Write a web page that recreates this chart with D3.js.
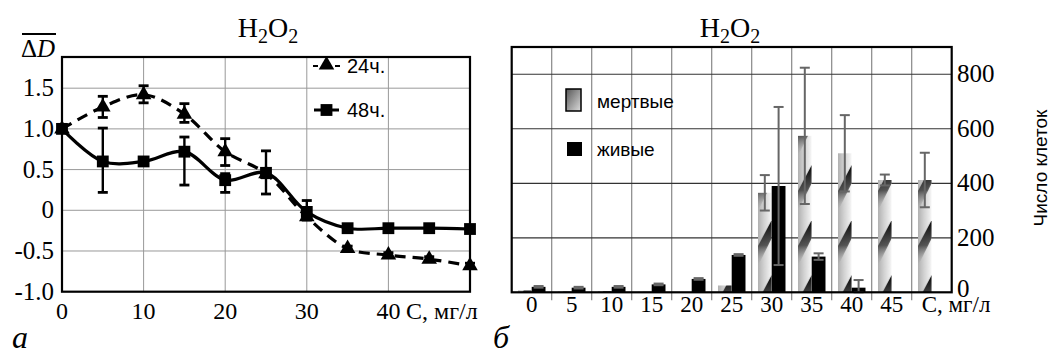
<!DOCTYPE html>
<html>
<head>
<meta charset="utf-8">
<script src="https://cdn.jsdelivr.net/npm/d3@7"></script>
<style>
  body { margin: 0; background: #fff; }
  svg { display: block; }
  .serif { font-family: "Liberation Serif", "Times New Roman", serif; }
  .sans { font-family: "Liberation Sans", Arial, sans-serif; }
</style>
</head>
<body>
<div id="chart"></div>
<script>
// ---- left panel (а): relative optical density vs concentration
const conc = [0, 5, 10, 15, 20, 25, 30, 35, 40, 45, 50];
const d24 = [1.0, 1.27, 1.42, 1.18, 0.72, 0.45, -0.08, -0.47, -0.55, -0.6, -0.68];
const d24Hi = [1.0, 1.4, 1.53, 1.31, 0.88, 0.5, -0.03, -0.44, -0.52, -0.57, -0.65];
const d24Lo = [1.0, 1.14, 1.32, 1.08, 0.55, 0.4, -0.12, -0.5, -0.58, -0.63, -0.71];
const d48 = [1.0, 0.6, 0.6, 0.72, 0.37, 0.46, -0.02, -0.22, -0.22, -0.22, -0.23];
const d48Hi = [1.0, 1.01, 0.62, 0.9, 0.45, 0.73, 0.12, -0.2, -0.2, -0.2, -0.21];
const d48Lo = [1.0, 0.22, 0.58, 0.31, 0.22, 0.2, -0.1, -0.24, -0.24, -0.24, -0.25];
const leftXTicks = [0, 10, 20, 30, 40];
const leftYTicks = [-1.0, -0.5, 0, 0.5, 1.0, 1.5];
const leftYLabels = ["-1.0", "-0.5", "0", "0.5", "1.0", "1.5"];

// ---- right panel (б): cell counts
const cats = [0, 5, 10, 15, 20, 25, 30, 35, 40, 45, 50];
const catLabels = ["0", "5", "10", "15", "20", "25", "30", "35", "40", "45", "C, мг/л"];
const dead = [7, 3, 4, 2, 0, 25, 365, 574, 510, 412, 412];
const deadErr = [0, 0, 0, 0, 0, 0, 65, 250, 140, 20, 100];
const live = [20, 17, 20, 29, 49, 137, 390, 131, 17, 0, 0];
const liveErr = [3, 3, 3, 3, 3, 3, 290, 12, 28, 0, 0];
const rightYTicks = [0, 200, 400, 600, 800];

const svg = d3.select("#chart").append("svg")
  .attr("width", 1056).attr("height", 356);

const defs = svg.append("defs");

// ================= LEFT =================
const xL = d3.scaleLinear().domain([0, 50]).range([62, 470]);
const yL = d3.scaleLinear().domain([-1, 1.883]).range([291.7, 57]);

const gL = svg.append("g");

// grid
gL.append("g").selectAll("line").data([10, 20, 30, 40]).join("line")
  .attr("x1", d => xL(d)).attr("x2", d => xL(d))
  .attr("y1", yL.range()[1]).attr("y2", yL.range()[0])
  .attr("stroke", "#999").attr("stroke-width", 1);
gL.append("g").selectAll("line").data([-0.5, 0, 0.5, 1.0, 1.5]).join("line")
  .attr("x1", xL(0)).attr("x2", xL(50))
  .attr("y1", d => yL(d)).attr("y2", d => yL(d))
  .attr("stroke", "#999").attr("stroke-width", 1);

// frame
gL.append("rect")
  .attr("x", xL(0)).attr("y", yL.range()[1])
  .attr("width", xL(50) - xL(0)).attr("height", yL.range()[0] - yL.range()[1])
  .attr("fill", "none").attr("stroke", "#000").attr("stroke-width", 2.2);

// axes labels
gL.append("g").selectAll("text").data(leftYTicks).join("text")
  .attr("class", "serif")
  .attr("x", 54).attr("y", d => yL(d) + 8)
  .attr("text-anchor", "end").attr("font-size", 25)
  .text((d, i) => leftYLabels[i]);
gL.append("g").selectAll("text").data(leftXTicks).join("text")
  .attr("class", "serif")
  .attr("x", d => xL(d)).attr("y", 319)
  .attr("text-anchor", "middle").attr("font-size", 24)
  .text(d => d);
gL.append("text").attr("class", "serif")
  .attr("x", 406).attr("y", 319).attr("font-size", 24)
  .text("C, мг/л");

// ΔD label with overline
gL.append("text").attr("class", "serif")
  .attr("x", 38).attr("y", 57).attr("text-anchor", "middle").attr("font-size", 25)
  .html('Δ<tspan font-style="italic">D</tspan>');
gL.append("line").attr("x1", 22).attr("x2", 56).attr("y1", 34).attr("y2", 34)
  .attr("stroke", "#000").attr("stroke-width", 1.8);

// title
function title(g, cx) {
  g.append("text").attr("class", "serif")
    .attr("x", cx).attr("y", 37).attr("text-anchor", "middle").attr("font-size", 28)
    .html('H<tspan dy="6" font-size="20">2</tspan><tspan dy="-6">O</tspan><tspan dy="6" font-size="20">2</tspan>');
}
title(gL, 268);

const line = d3.line().curve(d3.curveCatmullRom.alpha(0.5))
  .x(d => xL(d[0])).y(d => yL(d[1]));

// 24h series
gL.append("path")
  .attr("d", line(conc.map((c, i) => [c, d24[i]])))
  .attr("fill", "none").attr("stroke", "#000").attr("stroke-width", 3.2)
  .attr("stroke-dasharray", "11,7");
// 48h series
gL.append("path")
  .attr("d", line(conc.map((c, i) => [c, d48[i]])))
  .attr("fill", "none").attr("stroke", "#000").attr("stroke-width", 3.2);

function errBars(g, hi, lo) {
  const eb = g.append("g").attr("stroke", "#000").attr("stroke-width", 2.4);
  conc.forEach((c, i) => {
    if (hi[i] - lo[i] < 0.01) return;
    eb.append("line").attr("x1", xL(c)).attr("x2", xL(c))
      .attr("y1", yL(hi[i])).attr("y2", yL(lo[i]));
    [hi[i], lo[i]].forEach(v => eb.append("line")
      .attr("x1", xL(c) - 5).attr("x2", xL(c) + 5)
      .attr("y1", yL(v)).attr("y2", yL(v)).attr("stroke-width", 2.8));
  });
}
errBars(gL, d24Hi, d24Lo);
errBars(gL, d48Hi, d48Lo);

const tri = d3.symbol().type(d3.symbolTriangle).size(105);
const sq = d3.symbol().type(d3.symbolSquare).size(140);
gL.append("g").selectAll("path").data(conc).join("path")
  .attr("d", tri)
  .attr("transform", (c, i) => `translate(${xL(c)},${yL(d24[i])})`)
  .attr("fill", "#000");
gL.append("g").selectAll("path").data(conc).join("path")
  .attr("d", sq)
  .attr("transform", (c, i) => `translate(${xL(c)},${yL(d48[i])})`)
  .attr("fill", "#000");

// legend
const lg = gL.append("g");
lg.append("line").attr("x1", 313).attr("x2", 340).attr("y1", 66).attr("y2", 66)
  .attr("stroke", "#000").attr("stroke-width", 2).attr("stroke-dasharray", "5,17");
lg.append("path").attr("d", tri).attr("transform", "translate(326.5,65)");
lg.append("text").attr("class", "sans").attr("x", 347).attr("y", 73)
  .attr("font-size", 20).text("24ч.");
lg.append("line").attr("x1", 314).attr("x2", 339).attr("y1", 110).attr("y2", 110)
  .attr("stroke", "#000").attr("stroke-width", 3);
lg.append("path").attr("d", sq).attr("transform", "translate(326.5,110)");
lg.append("text").attr("class", "sans").attr("x", 347).attr("y", 117)
  .attr("font-size", 20).text("48ч.");

// panel letters
svg.append("text").attr("class", "serif").attr("x", 12).attr("y", 348)
  .attr("font-size", 32).attr("font-style", "italic").text("а");
svg.append("text").attr("class", "serif").attr("x", 493).attr("y", 348)
  .attr("font-size", 32).attr("font-style", "italic").text("б");

// ================= RIGHT =================
const xR = d3.scaleBand().domain(cats).range([511.7, 951.7]).paddingInner(0).paddingOuter(0);
const sub = d3.scaleBand().domain(["dead", "live"]).range([0, xR.bandwidth()]).paddingInner(0).paddingOuter(0.45);
const yR = d3.scaleLinear().domain([0, 900]).range([292.3, 47]);

const gR = svg.append("g");

// gradients / pattern for dead bars
const bw = sub.bandwidth();
const hg = defs.append("linearGradient").attr("id", "barShade").attr("x1", 0).attr("x2", 1).attr("y1", 0).attr("y2", 0);
hg.append("stop").attr("offset", 0).attr("stop-color", "#b0b0b0");
hg.append("stop").attr("offset", 0.45).attr("stop-color", "#d2d2d2");
hg.append("stop").attr("offset", 1).attr("stop-color", "#f6f6f6");
const sg = defs.append("linearGradient").attr("id", "streak").attr("x1", 0).attr("x2", 0).attr("y1", 0).attr("y2", 1);
sg.append("stop").attr("offset", 0).attr("stop-color", "#000").attr("stop-opacity", 1);
sg.append("stop").attr("offset", 0.55).attr("stop-color", "#333").attr("stop-opacity", 0.8);
sg.append("stop").attr("offset", 1).attr("stop-color", "#aaa").attr("stop-opacity", 0);
const pat = defs.append("pattern").attr("id", "deadFill")
  .attr("patternUnits", "userSpaceOnUse")
  .attr("x", xR(0) + sub("dead")).attr("y", 0)
  .attr("width", xR.step()).attr("height", 55);
pat.append("rect").attr("width", bw).attr("height", 55).attr("fill", "url(#barShade)");
pat.append("polygon")
  .attr("points", `0,46 ${bw},18 ${bw},0 0,26`)
  .attr("fill", "url(#streak)");

const lgGrad = defs.append("linearGradient").attr("id", "legGrad").attr("x1", 0).attr("x2", 1).attr("y1", 0).attr("y2", 1);
lgGrad.append("stop").attr("offset", 0).attr("stop-color", "#555");
lgGrad.append("stop").attr("offset", 1).attr("stop-color", "#ddd");

// grid
gR.append("g").selectAll("line").data(cats.slice(1)).join("line")
  .attr("x1", d => xR(d)).attr("x2", d => xR(d))
  .attr("y1", yR.range()[1]).attr("y2", yR.range()[0] + 8)
  .attr("stroke", "#888").attr("stroke-width", 1.2);
gR.append("g").selectAll("line").data(rightYTicks.slice(1)).join("line")
  .attr("x1", xR.range()[0]).attr("x2", xR.range()[1])
  .attr("y1", d => yR(d)).attr("y2", d => yR(d))
  .attr("stroke", "#333").attr("stroke-width", 1.2);

// bars
gR.append("g").selectAll("rect").data(cats).join("rect")
  .attr("x", c => xR(c) + sub("dead"))
  .attr("y", (c, i) => yR(dead[i]))
  .attr("width", bw)
  .attr("height", (c, i) => yR(0) - yR(dead[i]))
  .attr("fill", "url(#deadFill)");
gR.append("g").selectAll("rect").data(cats).join("rect")
  .attr("x", c => xR(c) + sub("live"))
  .attr("y", (c, i) => yR(live[i]))
  .attr("width", bw)
  .attr("height", (c, i) => yR(0) - yR(live[i]))
  .attr("fill", "#000");

// error bars
function barErr(vals, errs, key) {
  const g = gR.append("g").attr("stroke", "#666").attr("stroke-width", 2);
  cats.forEach((c, i) => {
    if (errs[i] <= 0) return;
    const cx = xR(c) + sub(key) + bw / 2;
    const top = vals[i] + errs[i], bot = Math.max(0, vals[i] - errs[i]);
    g.append("line").attr("x1", cx).attr("x2", cx).attr("y1", yR(top)).attr("y2", yR(bot));
    [top, bot].forEach(v => g.append("line")
      .attr("x1", cx - 5).attr("x2", cx + 5).attr("y1", yR(v)).attr("y2", yR(v)));
  });
}
barErr(dead, deadErr, "dead");
barErr(live, liveErr, "live");

// frame
gR.append("rect")
  .attr("x", xR.range()[0]).attr("y", yR.range()[1])
  .attr("width", xR.range()[1] - xR.range()[0]).attr("height", yR.range()[0] - yR.range()[1])
  .attr("fill", "none").attr("stroke", "#000").attr("stroke-width", 2.2);

// axis labels
gR.append("g").selectAll("text").data(cats).join("text")
  .attr("class", "serif")
  .attr("x", (c, i) => i === cats.length - 1 ? xR(c) + 10 : xR(c) + xR.bandwidth() / 2)
  .attr("y", 312)
  .attr("text-anchor", (c, i) => i === cats.length - 1 ? "start" : "middle")
  .attr("font-size", 23)
  .text((c, i) => catLabels[i]);
gR.append("g").selectAll("text").data(rightYTicks).join("text")
  .attr("class", "serif")
  .attr("x", 957).attr("y", d => yR(d) + (d === 0 ? 5 : 8))
  .attr("font-size", 25)
  .text(d => d);
gR.append("text").attr("class", "sans")
  .attr("transform", "translate(1047,168) rotate(-90)")
  .attr("text-anchor", "middle").attr("font-size", 19)
  .text("Число клеток");

title(gR, 730);

// legend
gR.append("rect").attr("x", 566).attr("y", 89).attr("width", 15).attr("height", 22)
  .attr("fill", "url(#legGrad)").attr("stroke", "#000").attr("stroke-width", 1.5);
gR.append("text").attr("class", "sans").attr("x", 597).attr("y", 108)
  .attr("font-size", 19).text("мертвые");
gR.append("rect").attr("x", 567).attr("y", 142).attr("width", 15).attr("height", 14)
  .attr("fill", "#000");
gR.append("text").attr("class", "sans").attr("x", 597).attr("y", 156)
  .attr("font-size", 19).text("живые");
</script>
</body>
</html>
